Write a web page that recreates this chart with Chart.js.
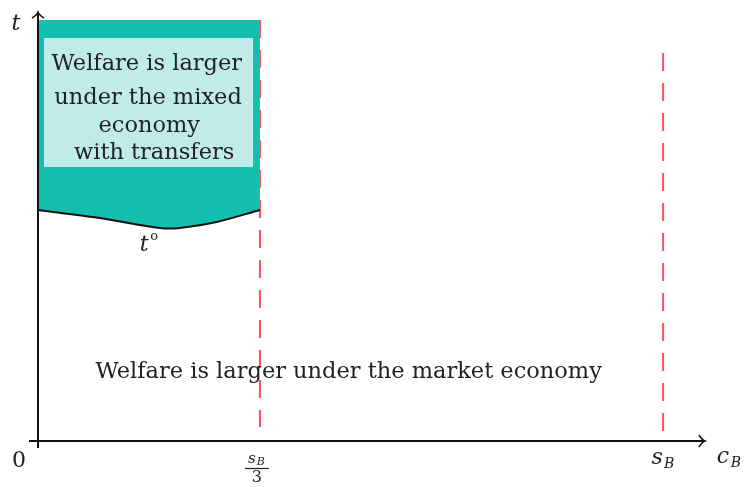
<!DOCTYPE html>
<html>
<head>
<meta charset="utf-8">
<script src="https://cdn.jsdelivr.net/npm/chart.js@4"></script>
<style>
  html, body { margin: 0; padding: 0; background: #fff; }
  #wrap { width: 745px; height: 487px; }
</style>
</head>
<body>
<div id="wrap"><canvas id="welfareChart" width="745" height="487"></canvas></div>
<script>
// horizontal positions (s_B = 1)
const sB = 1.0;
const sBThird = 0.355;
const xMax = 1.067;
const yMax = 429;

// lower edge t° of the mixed-economy region
const curveX = [0, 0.099, 0.195, 0.227, 0.286, sBThird];
const curveY = [231, 223, 213, 213, 219, 231];
const regionTop = 421;

// dashed verticals: [x, yTop, yBottom]
const dashLines = [
    [sBThird, 421, 14],
    [sB, 388, 4]
];

// inner caption box (data units)
const boxX = [0.0096, 0.344];
const boxY = [274, 403];
const boxLines = ['Welfare is larger', 'under the mixed', 'economy', ' with transfers'];
const boxLineY = [377, 343, 315, 288];
const boxLineX = [0.174, 0.176, 0.178, 0.18];

const marketText = 'Welfare is larger under the market economy';
const marketPos = [0.497, 69];

const FONT = '"DejaVu Serif", "Liberation Serif", serif';
const TEXT = '#222';

function pts(xs, ys) {
    return xs.map((x, i) => ({ x: x, y: ys[i] }));
}

// axes, arrows, captions
const decorations = {
    id: 'decorations',
    afterDatasetsDraw(chart) {
        const ctx = chart.ctx;
        const xs = chart.scales.x, ys = chart.scales.y;
        const x0 = xs.getPixelForValue(0), y0 = ys.getPixelForValue(0);
        const xEnd = xs.getPixelForValue(xMax), yEnd = ys.getPixelForValue(yMax);

        ctx.save();
        // light box over the teal fill
        const bx0 = xs.getPixelForValue(boxX[0]), bx1 = xs.getPixelForValue(boxX[1]);
        const by0 = ys.getPixelForValue(boxY[1]), by1 = ys.getPixelForValue(boxY[0]);
        ctx.fillStyle = '#bfece8';
        ctx.fillRect(bx0, by0, bx1 - bx0, by1 - by0);

        // axes
        ctx.strokeStyle = '#111';
        ctx.lineWidth = 2;
        ctx.beginPath();
        ctx.moveTo(x0 - 9, y0); ctx.lineTo(xEnd - 1, y0);
        ctx.moveTo(x0, y0 + 7); ctx.lineTo(x0, yEnd + 1);
        ctx.stroke();
        ctx.lineWidth = 1.5;
        ctx.beginPath();
        ctx.moveTo(xEnd - 6, y0 - 6); ctx.quadraticCurveTo(xEnd - 3, y0 - 1, xEnd, y0);
        ctx.quadraticCurveTo(xEnd - 3, y0 + 1, xEnd - 6, y0 + 6);
        ctx.moveTo(x0 - 6, yEnd + 6); ctx.quadraticCurveTo(x0 - 1, yEnd + 3, x0, yEnd);
        ctx.quadraticCurveTo(x0 + 1, yEnd + 3, x0 + 6, yEnd + 6);
        ctx.stroke();

        // captions
        ctx.fillStyle = TEXT;
        ctx.textAlign = 'center';
        ctx.textBaseline = 'middle';
        ctx.font = '22.5px ' + FONT;
        boxLines.forEach((s, i) => {
            ctx.fillText(s, xs.getPixelForValue(boxLineX[i]), ys.getPixelForValue(boxLineY[i]));
        });
        ctx.fillText(marketText, xs.getPixelForValue(marketPos[0]), ys.getPixelForValue(marketPos[1]));

        // t° label under the curve
        ctx.font = 'italic 22px ' + FONT;
        ctx.fillText('t', xs.getPixelForValue(0.17), ys.getPixelForValue(196));
        ctx.font = '13px ' + FONT;
        ctx.fillText('o', xs.getPixelForValue(0.186), ys.getPixelForValue(204));

        // axis names
        ctx.font = 'italic 22px ' + FONT;
        ctx.fillText('t', 16, ys.getPixelForValue(yMax) + 12);
        ctx.fillText('c', xEnd + 18, y0 + 16);
        ctx.font = 'italic 14px ' + FONT;
        ctx.fillText('B', xEnd + 31, y0 + 22);

        // tick labels
        ctx.font = '22px ' + FONT;
        ctx.fillText('0', x0 - 19, y0 + 20);
        const sx = xs.getPixelForValue(sB);
        ctx.font = 'italic 22px ' + FONT;
        ctx.fillText('s', sx - 6, y0 + 17);
        ctx.font = 'italic 14px ' + FONT;
        ctx.fillText('B', sx + 6, y0 + 23);

        const fx = xs.getPixelForValue(sBThird) - 3;
        ctx.font = 'italic 15px ' + FONT;
        ctx.fillText('s', fx - 5, y0 + 18);
        ctx.font = 'italic 11px ' + FONT;
        ctx.fillText('B', fx + 4, y0 + 21);
        ctx.lineWidth = 1.2;
        ctx.strokeStyle = TEXT;
        ctx.beginPath();
        ctx.moveTo(fx - 12, y0 + 27.5); ctx.lineTo(fx + 12, y0 + 27.5);
        ctx.stroke();
        ctx.font = '16px ' + FONT;
        ctx.fillText('3', fx, y0 + 37);
        ctx.restore();
    }
};

const datasets = [
    {
        // upper edge of the region
        data: pts(curveX, curveX.map(() => regionTop)),
        borderWidth: 0,
        pointRadius: 0,
        fill: false
    },
    {
        // t° curve, region filled up to the top edge
        data: pts(curveX, curveY),
        borderColor: '#111',
        borderWidth: 2,
        pointRadius: 0,
        tension: 0.3,
        backgroundColor: '#14bfb0',
        fill: 0
    }
];

dashLines.forEach(d => {
    datasets.push({
        data: [{ x: d[0], y: d[1] }, { x: d[0], y: d[2] }],
        borderColor: '#ff4d5a',
        borderWidth: 2,
        borderDash: [18, 12],
        pointRadius: 0,
        fill: false
    });
});

new Chart(document.getElementById('welfareChart'), {
    type: 'scatter',
    data: { datasets: datasets },
    options: {
        responsive: false,
        animation: false,
        showLine: true,
        layout: { padding: { left: 38, right: 40, top: 12, bottom: 46 } },
        plugins: { legend: { display: false }, tooltip: { enabled: false } },
        scales: {
            x: { type: 'linear', min: 0, max: xMax, display: false },
            y: { type: 'linear', min: 0, max: yMax, display: false }
        }
    },
    plugins: [decorations]
});
</script>
</body>
</html>
